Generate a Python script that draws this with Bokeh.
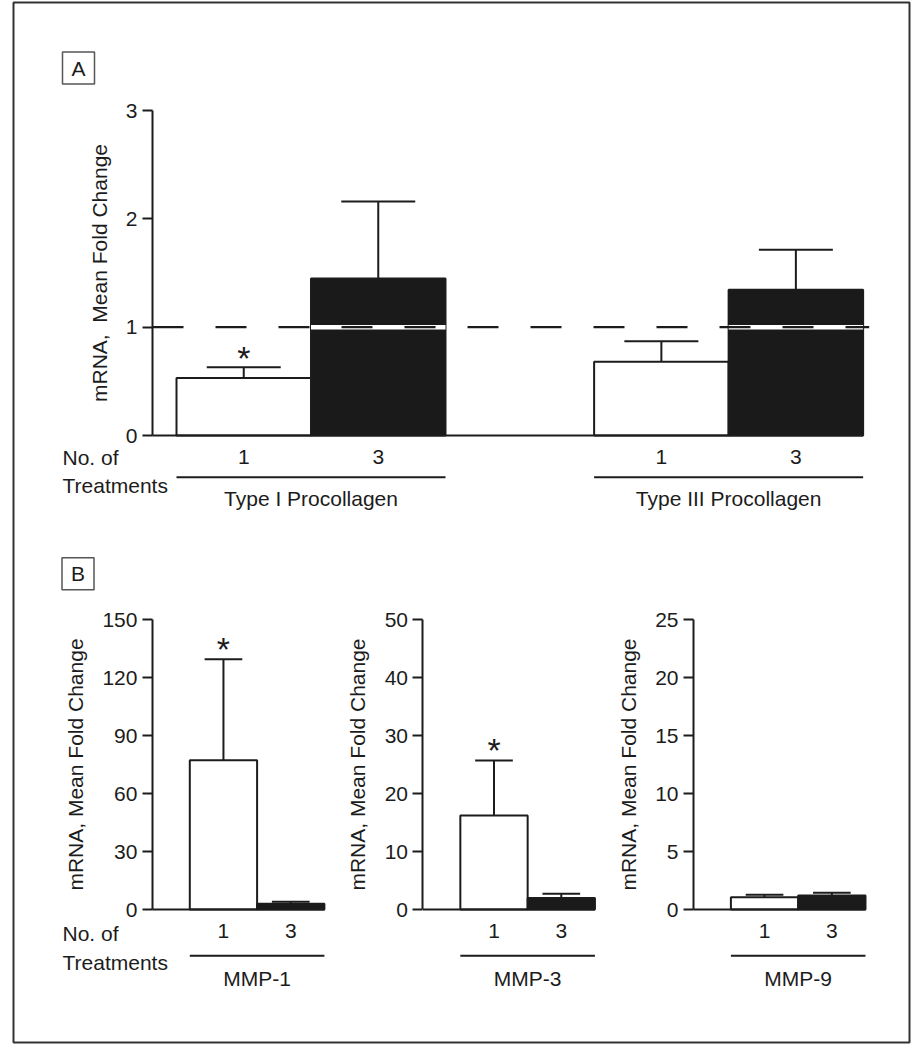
from bokeh.plotting import figure
from bokeh.models import Range1d, LinearAxis, FixedTicker
from bokeh.core.properties import value
from bokeh.embed import file_html
from bokeh.resources import INLINE

# ---------------- data ----------------
treatments = ["1", "3"]
a_groups = ["Type I Procollagen", "Type III Procollagen"]
a_one = [0.53, 0.68]
a_one_err = [0.10, 0.19]
a_three = [1.45, 1.345]
a_three_err = [0.71, 0.37]
a_one_sig = [True, False]
a_ticks = [0, 1, 2, 3]
a_reference = 1.0

b_groups = ["MMP-1", "MMP-3", "MMP-9"]
b_one = [77.2, 16.2, 1.06]
b_one_err = [52.3, 9.5, 0.21]
b_three = [3.0, 2.0, 1.21]
b_three_err = [1.0, 0.72, 0.23]
b_one_sig = [True, True, False]
b_ticks = [[0, 30, 60, 90, 120, 150], [0, 10, 20, 30, 40, 50], [0, 5, 10, 15, 20, 25]]

# ---------------- layout ----------------
FONT_NAME = "Liberation Sans"
FONT = value(FONT_NAME)
FS = "21px"
INK = "#1c1c1c"
BLACK = "#1a1a1a"
ORIGIN = 0
W, H = 911, 1044
ML, MR, MT, MB = 13, 2, 2, 2
FX0, FX1 = ORIGIN + ML, ORIGIN + W - MR
FY0, FY1 = ORIGIN + MT, ORIGIN + H - MB


def lin(v0, p0, v1, p1):
    s = (v1 - v0) / (p1 - p0)
    return lambda px: v0 + (px - p0) * s


def xr(v0, p0, v1, p1):
    f = lin(v0, p0, v1, p1)
    return Range1d(f(FX0), f(FX1)), f


def yr(v0, p0, v1, p1):
    f = lin(v0, p0, v1, p1)
    return Range1d(f(FY1), f(FY0)), f


# panel A: bar width = 1 unit
ax_range, ax_f = xr(0, 176, 1, 310.5)
ay_range, ay_f = yr(0, 435, 3, 110)
a_px = 325 / 3.0  # px per unit

# panel B
bx_range, bx_f = xr(0, 189.3, 1, 256.6)
B_ZERO, B_TOP = 909, 619

p = figure(width=W, height=H, x_range=ax_range, y_range=ay_range,
           x_axis_type=None, y_axis_type=None, toolbar_location=None,
           output_backend="svg", min_border_left=ML, min_border_right=MR,
           min_border_top=MT, min_border_bottom=MB,
           outline_line_color="#333333", outline_line_width=2,
           background_fill_color="white", border_fill_color="white")

p.extra_x_ranges = {"b": bx_range}
b_yf = []
for i, t in enumerate(b_ticks):
    r, f = yr(0, B_ZERO, t[-1], B_TOP)
    p.extra_y_ranges["b%d" % i] = r
    b_yf.append(f)


def txt(x, y, s, xn="default", yn="default", align="center", base="middle",
        dy=0, size=FS):
    p.text(x=[x], y=[y], text=[s], x_range_name=xn, y_range_name=yn,
           text_font=FONT, text_font_size=size, text_color=INK,
           text_align=align, text_baseline=base, y_offset=dy)


def add_axis(xn, yn, loc, ticks, label):
    ax = LinearAxis(x_range_name=xn, y_range_name=yn, fixed_location=loc,
                    bounds=(ticks[0], ticks[-1]), ticker=FixedTicker(ticks=ticks),
                    axis_label=label)
    ax.axis_line_width = 2
    ax.axis_line_color = INK
    ax.major_tick_line_width = 2
    ax.major_tick_line_color = INK
    ax.major_tick_out = 10
    ax.major_tick_in = 0
    ax.minor_tick_out = 0
    ax.minor_tick_in = 0
    ax.major_label_text_font = FONT_NAME
    ax.major_label_text_font_size = FS
    ax.major_label_text_color = INK
    ax.major_label_standoff = 5
    ax.axis_label_text_font = FONT_NAME
    ax.axis_label_text_font_size = FS
    ax.axis_label_text_font_style = "normal"
    ax.axis_label_text_color = INK
    ax.axis_label_standoff = 12
    p.add_layout(ax, "left")


def draw_group(xn, yn, off, one, one_err, three, three_err, sig, name,
               cap_w, under_y, d_digit, d_name, star_dy):
    c1, c3 = off + 0.5, off + 1.5
    p.vbar(x=[c1], top=[one], width=1, bottom=0, fill_color="white",
           line_color=INK, line_width=2, x_range_name=xn, y_range_name=yn)
    p.vbar(x=[c3], top=[three], width=1, bottom=0, fill_color=BLACK,
           line_color=INK, line_width=2, x_range_name=xn, y_range_name=yn)
    for c, v, e in ((c1, one, one_err), (c3, three, three_err)):
        p.segment(x0=[c], y0=[v], x1=[c], y1=[v + e], line_color=INK,
                  line_width=2, x_range_name=xn, y_range_name=yn)
        p.segment(x0=[c - cap_w / 2], y0=[v + e], x1=[c + cap_w / 2], y1=[v + e],
                  line_color=INK, line_width=2, x_range_name=xn, y_range_name=yn)
    if sig:
        txt(c1, one + one_err, "*", xn, yn, dy=star_dy, size="34px")
    txt(c1, 0, treatments[0], xn, yn, dy=d_digit)
    txt(c3, 0, treatments[1], xn, yn, dy=d_digit)
    p.segment(x0=[off], y0=[under_y], x1=[off + 2], y1=[under_y], line_color=INK,
              line_width=2, x_range_name=xn, y_range_name=yn)
    txt(off + 1, 0, name, xn, yn, dy=d_name)


# ---------------- panel A ----------------
a_offsets = [0, 3.105]
a_axis = ax_f(152)
add_axis("default", "default", a_axis, a_ticks, "mRNA,\u00a0 Mean Fold Change")
for i in range(len(a_groups)):
    draw_group("default", "default", a_offsets[i], a_one[i], a_one_err[i],
               a_three[i], a_three_err[i], a_one_sig[i], a_groups[i],
               0.55, -41.7 / a_px, 21, 63, -9)
# white halo where the reference line crosses the dark bars
for off in a_offsets:
    p.segment(x0=[off + 1], y0=[a_reference], x1=[off + 2], y1=[a_reference],
              line_color="white", line_width=4.5)
p.segment(x0=[a_axis], y0=[a_reference], x1=[a_offsets[-1] + 2.045],
          y1=[a_reference], line_color=INK, line_width=2.2, line_dash="31 32")
p.segment(x0=[a_axis], y0=[0], x1=[a_offsets[-1] + 2], y1=[0],
          line_color=INK, line_width=2)
txt(ax_f(62), 0, "No. of", align="left", dy=22)
txt(ax_f(62), 0, "Treatments", align="left", dy=50)
p.scatter(x=[ax_f(78)], y=[ay_f(67.5)], marker="square", size=32,
          fill_color=None, line_color="#555555", line_width=1.5)
txt(ax_f(78), ay_f(67.5), "A")

# ---------------- panel B ----------------
b_step = 4.02
for i in range(len(b_groups)):
    yn = "b%d" % i
    off = b_step * i
    top = b_ticks[i][-1]
    add_axis("b", yn, off - 0.555, b_ticks[i], "mRNA, Mean Fold Change")
    draw_group("b", yn, off, b_one[i], b_one_err[i], b_three[i], b_three_err[i],
               b_one_sig[i], b_groups[i], 0.56, -46.2 * top / (B_ZERO - B_TOP),
               21, 69, -10)
    p.segment(x0=[off - 0.555], y0=[0], x1=[off + 2], y1=[0], line_color=INK,
              line_width=2, x_range_name="b", y_range_name=yn)
txt(bx_f(62), 0, "No. of", "b", "b0", align="left", dy=24)
txt(bx_f(62), 0, "Treatments", "b", "b0", align="left", dy=52.5)
p.scatter(x=[bx_f(77.5)], y=[b_yf[0](573.3)], marker="square", size=32,
          fill_color=None, line_color="#555555", line_width=1.5,
          x_range_name="b", y_range_name="b0")
txt(bx_f(77.5), b_yf[0](573.3), "B", "b", "b0")

open("out.html", "w").write(file_html(p, INLINE))
